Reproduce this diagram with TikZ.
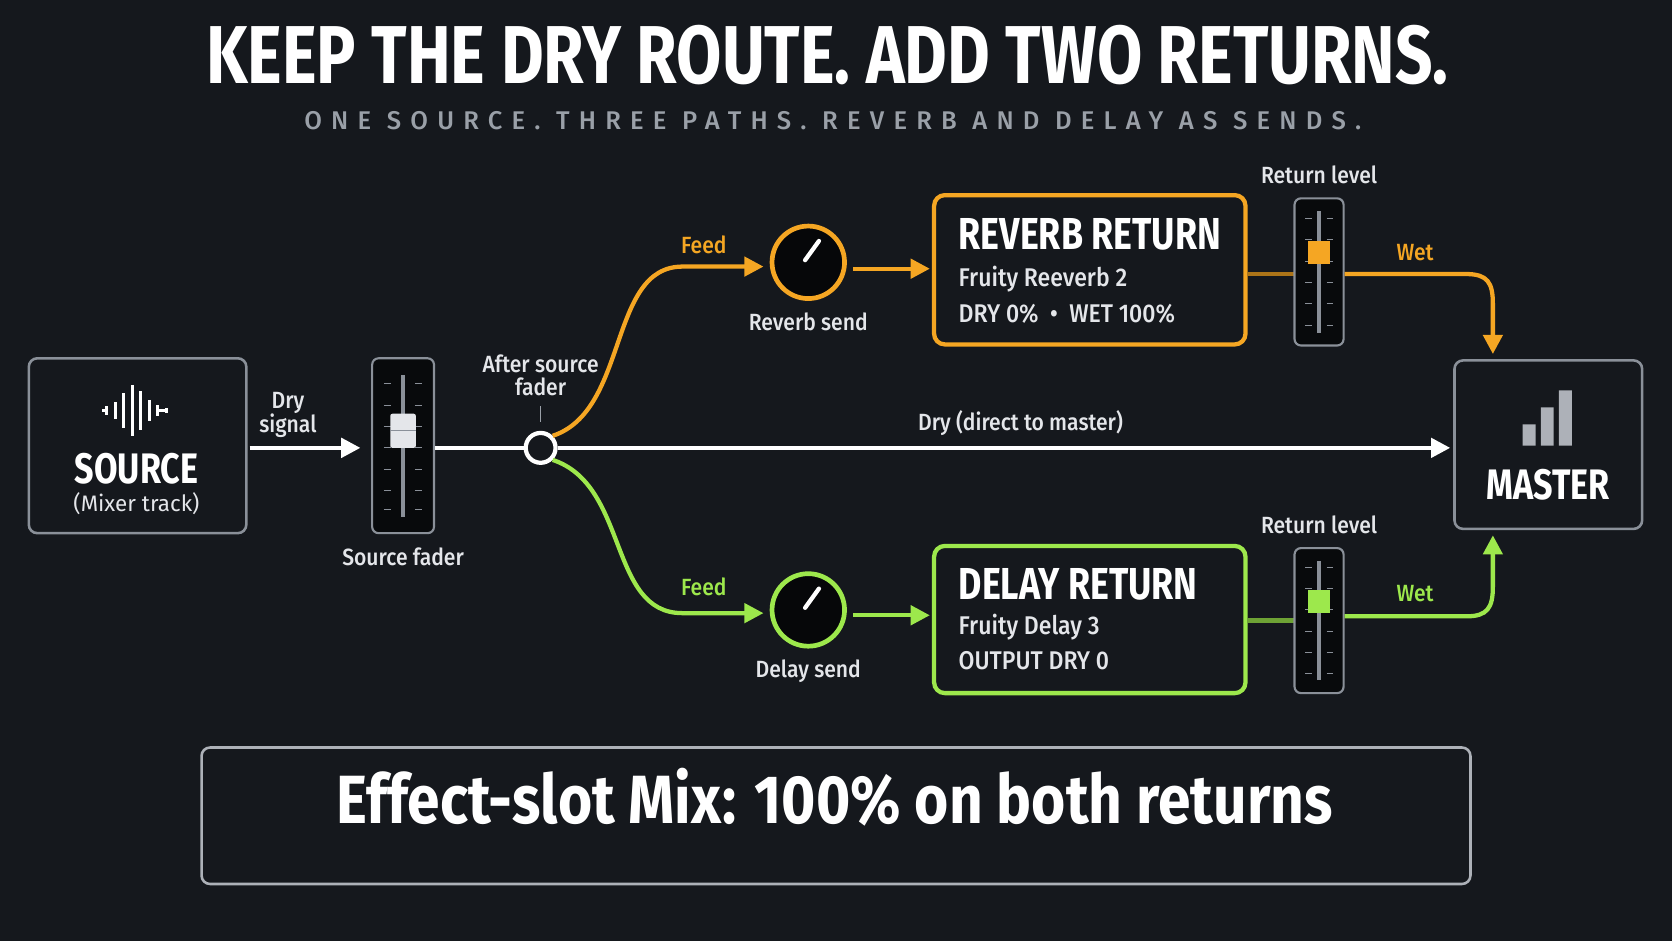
\documentclass[tikz,border=0pt]{standalone}
\usepackage{fontspec}
\setmainfont{Fira Sans}
\newfontfamily\cond[FakeStretch=0.8]{Fira Sans Bold}
\newfontfamily\condb[FakeStretch=0.86]{Fira Sans Bold}
\newfontfamily\semi[FakeStretch=0.9]{Fira Sans Medium}
\newfontfamily\spaced[LetterSpace=36]{Fira Sans Medium}
\usetikzlibrary{arrows.meta}
\definecolor{bg}{HTML}{15181D}
\definecolor{orng}{HTML}{F5A623}
\definecolor{grn}{HTML}{9DE84C}
\definecolor{bord}{HTML}{8A9099}
\definecolor{lbl}{HTML}{E4E6EA}
\definecolor{sub}{HTML}{9AA0A8}
\begin{document}
\begin{tikzpicture}[x=0.5pt,y=-0.5pt,
  box/.style={draw=bord,line width=1.2pt,rounded corners=4pt},
  fbox/.style={line width=2pt,rounded corners=5pt,fill=bg},
  lab/.style={text=lbl,font=\semi\fontsize{11}{13}\selectfont,align=center},
  wire/.style={line width=2pt,-{Triangle[length=9pt,width=9pt]}},
  fader/.style={draw=bord,line width=1pt,rounded corners=3pt,fill=black!60!bg},
  knob/.style={circle,minimum size=34pt,line width=2.2pt,fill=black!70!bg}]
\fill[bg] (0,0) rectangle (1568,882);
\useasboundingbox (0,0) rectangle (1568,882);
% titles
\node[text=white,font=\cond\fontsize{38.5}{42}\selectfont] (title) at (776,52) {KEEP THE DRY ROUTE. ADD TWO RETURNS.};
\node[text=sub,font=\spaced\fontsize{12}{14}\selectfont] (subt) at (781,113) {ONE SOURCE. THREE PATHS. REVERB AND DELAY AS SENDS.};
% source
\node[box,minimum width=102pt,minimum height=82pt] (src) at (129,418) {};
\foreach \x/\h in {100/4,108/8,116/16,124/24,132/18,140/10,148/5,156/2}
  \draw[white,line width=1.4pt] (\x,385-\h) -- (\x,385+\h);
\draw[white,line width=1.4pt] (96,385)--(100,385) (148,385)--(158,385);
\node[text=white,font=\cond\fontsize{20}{22}\selectfont] (srct) at (128,440) {SOURCE};
\node[lab,font=\fontsize{10.5}{12}\selectfont] (srcs) at (128,472) {(Mixer track)};
% source fader
\node[fader,minimum width=29pt,minimum height=82pt] (sf) at (378,418) {};
\draw[bord,line width=2pt] (378,352)--(378,485);
\foreach \y in {360,380,400,420,440,460,478} \draw[bord,line width=0.5pt] (360,\y)--(367,\y) (389,\y)--(396,\y);
\node[fill=lbl,minimum width=12pt,minimum height=16pt,inner sep=0,rounded corners=1pt] (sfk) at (378,404) {};
\draw[bord] (366,404)--(390,404);
\node[lab] (sfl) at (378,522) {Source fader};
% dry arrow
\coordinate (s1) at (234,420);
\draw[wire,white] (s1) -- (338,420);
\node[lab] (drys) at (270,389) {Dry\\[-2pt]signal};
\draw[white,line width=2pt] (sf.east|-s1) -- (493,420);
\node[circle,draw=white,line width=2pt,minimum size=14pt,inner sep=0,fill=bg] (j) at (507,420) {};
\node[lab] (aft) at (507,352) {After source\\[-2pt]fader};
\draw[sub,line width=0.6pt] (507,381)--(507,396);
% master
\node[box,minimum width=88pt,minimum height=79pt] (mst) at (1452,417) {};
\fill[bord!70] (1428,398) rectangle (1440,418) (1445,382) rectangle (1457,418) (1462,366) rectangle (1474,418);
\node[text=white,font=\cond\fontsize{20}{22}\selectfont] (mstt) at (1452,455) {MASTER};
\draw[wire,white] (j.east) -- (1360,420);
\node[lab] (dryl) at (957,397) {Dry (direct to master)};
% reverb path
\node[knob,draw=orng] (rk) at (758,246) {};
\draw[white,line width=2pt,line cap=round] (755,244) -- (768,226);
\draw[wire,orng] (j.north east) .. controls (590,385) and (570,250) .. (640,250) -- (716,250);
\node[text=orng,font=\semi\fontsize{11}{13}\selectfont] (f1) at (660,230) {Feed};
\node[lab] (rs) at (758,302) {Reverb send};
\draw[wire,orng] (800,252) -- (872,252);
\node[fbox,draw=orng,minimum width=146pt,minimum height=70pt] (rb) at (1022,253) {};
\node[anchor=west,text=white,font=\cond\fontsize{21}{22}\selectfont] (rbt) at (892,220) {REVERB RETURN};
\node[anchor=west,text=lbl,font=\semi\fontsize{12}{14}\selectfont] (rb1) at (892,262) {Fruity Reeverb 2};
\node[anchor=west,text=lbl,font=\semi\fontsize{12}{14}\selectfont] (rb2) at (892,294) {DRY 0\%\ \ •\ \ WET 100\%};
\draw[orng!70!black,line width=2pt] (rb.east|-0,257) -- (1214,257);
\node[fader,minimum width=23pt,minimum height=69pt] (rf) at (1237,255) {};
\draw[bord,line width=1.6pt] (1237,198)--(1237,312);
\foreach \y in {205,225,245,265,285,305} \draw[bord,line width=0.5pt] (1224,\y)--(1230,\y) (1244,\y)--(1250,\y);
\node[fill=orng,minimum width=10pt,minimum height=11pt,inner sep=0] (rfk) at (1237,237) {};
\node[lab] (rl1) at (1237,164) {Return level};
\draw[wire,orng] (rf.east|-0,257) -- (1375,257) .. controls (1395,257) and (1400,265) .. (1400,285) -- (1400,332);
\node[text=orng,font=\semi\fontsize{11}{13}\selectfont] (w1) at (1327,237) {Wet};
% delay path
\node[knob,draw=grn] (dk) at (758,572) {};
\draw[white,line width=2pt,line cap=round] (755,570) -- (768,552);
\draw[wire,grn] (j.south east) .. controls (590,455) and (570,575) .. (640,575) -- (716,575);
\node[text=grn,font=\semi\fontsize{11}{13}\selectfont] (f2) at (660,550) {Feed};
\node[lab] (ds) at (758,629) {Delay send};
\draw[wire,grn] (800,577) -- (872,577);
\node[fbox,draw=grn,minimum width=146pt,minimum height=69pt] (db) at (1022,581) {};
\node[anchor=west,text=white,font=\cond\fontsize{21}{22}\selectfont] (dbt) at (892,548) {DELAY RETURN};
\node[anchor=west,text=lbl,font=\semi\fontsize{12}{14}\selectfont] (db1) at (892,588) {Fruity Delay 3};
\node[anchor=west,text=lbl,font=\semi\fontsize{12}{14}\selectfont] (db2) at (892,620) {OUTPUT DRY 0};
\draw[grn!70!black,line width=2pt] (db.east|-0,582) -- (1214,582);
\node[fader,minimum width=23pt,minimum height=68pt] (df) at (1237,582) {};
\draw[bord,line width=1.6pt] (1237,526)--(1237,638);
\foreach \y in {532,552,572,592,612,632} \draw[bord,line width=0.5pt] (1224,\y)--(1230,\y) (1244,\y)--(1250,\y);
\node[fill=grn,minimum width=10pt,minimum height=11pt,inner sep=0] (dfk) at (1237,564) {};
\node[lab] (rl2) at (1237,492) {Return level};
\draw[wire,grn] (df.east|-0,578) -- (1375,578) .. controls (1395,578) and (1400,570) .. (1400,550) -- (1400,502);
\node[text=grn,font=\semi\fontsize{11}{13}\selectfont] (w2) at (1327,557) {Wet};
% bottom
\node[box,draw=bord!70,minimum width=595pt,minimum height=64pt] (bot) at (784,765) {};
\node[text=white,font=\condb\fontsize{32}{34}\selectfont] (bott) at (783,748) {Effect-slot Mix: 100\% on both returns};
\end{tikzpicture}
\end{document}
